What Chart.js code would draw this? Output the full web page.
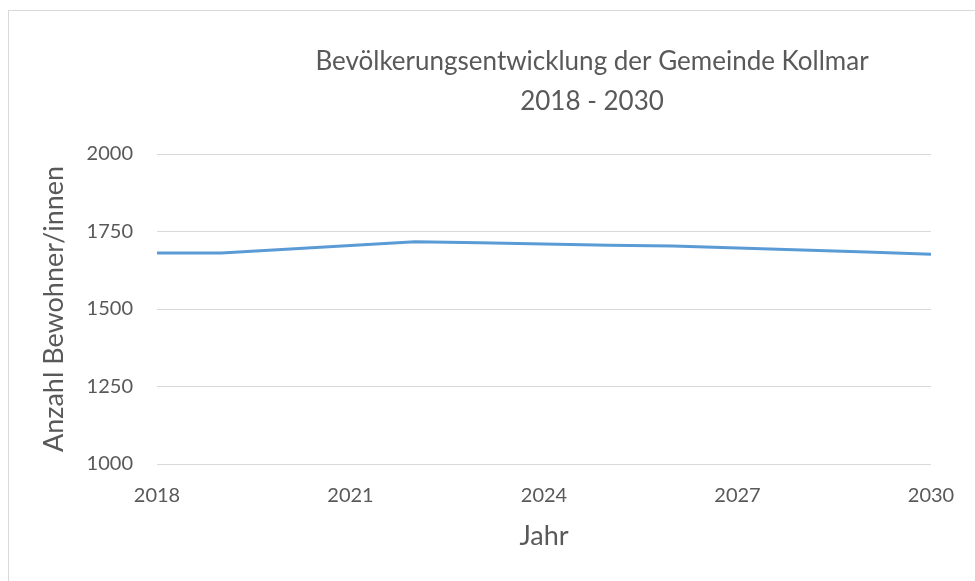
<!DOCTYPE html>
<html>
<head>
<meta charset="utf-8">
<script src="https://cdn.jsdelivr.net/npm/chart.js@4/dist/chart.umd.min.js"></script>
<style>
  html, body { margin: 0; padding: 0; background: #fff; overflow: hidden; }
  #wrap { position: relative; width: 975px; height: 581px; overflow: hidden; }
  #frame { position: absolute; left: 8px; top: 10px; width: 2000px; height: 2000px; border: 1px solid #d9d9d9; box-sizing: border-box; }
  canvas { position: absolute; left: 0; top: 0; }
</style>
</head>
<body>
<div id="wrap">
  <div id="frame"></div>
  <canvas id="c" width="975" height="581"></canvas>
</div>
<script>
const titleLines = ["Bevölkerungsentwicklung der Gemeinde Kollmar", "2018 - 2030"];
const years = ["2018","2019","2020","2021","2022","2023","2024","2025","2026","2027","2028","2029","2030"];
const residents = [1681, 1681, 1693, 1705, 1717, 1714, 1710, 1706, 1703, 1697, 1690, 1684, 1677];
const yTicks = [1000, 1250, 1500, 1750, 2000];
const xTitle = "Jahr";
const yTitle = "Anzahl Bewohner/innen";

const FONT = "Lato, 'Open Sans', sans-serif";
const TEXT = "#595959";

const titlePlugin = {
  id: 'twoLineTitle',
  afterDraw(chart) {
    const ctx = chart.ctx;
    ctx.save();
    ctx.fillStyle = TEXT;
    ctx.font = "26px " + FONT;
    ctx.textAlign = "center";
    ctx.textBaseline = "middle";
    ctx.fillText(titleLines[0], 592, 62);
    ctx.fillText(titleLines[1], 592, 102);
    ctx.restore();
  }
};

new Chart(document.getElementById('c'), {
  type: 'line',
  data: {
    labels: years,
    datasets: [{
      label: 'Einwohner',
      data: residents,
      borderColor: '#5b9bd5',
      backgroundColor: '#5b9bd5',
      borderWidth: 3,
      pointRadius: 0,
      tension: 0,
      fill: false
    }]
  },
  options: {
    responsive: false,
    animation: false,
    layout: { padding: { left: 0, top: 154, right: 44, bottom: 0 } },
    plugins: {
      legend: { display: false },
      title: { display: false },
      tooltip: { enabled: false }
    },
    scales: {
      x: {
        type: 'category',
        offset: false,
        grid: { display: false, drawTicks: false },
        border: { display: false },
        ticks: {
          autoSkip: false,
          maxRotation: 0,
          minRotation: 0,
          padding: 20,
          color: TEXT,
          font: { family: FONT, size: 20 },
          callback: function(v, i) { return i % 3 === 0 ? years[i] : ''; }
        },
        title: {
          display: true,
          text: xTitle,
          color: TEXT,
          font: { family: FONT, size: 27 },
          padding: { top: 0, bottom: 29 }
        },
        afterFit: function(axis) { axis.height = 117; }
      },
      y: {
        min: yTicks[0],
        max: yTicks[yTicks.length - 1],
        grid: { color: '#d9d9d9', lineWidth: 1, drawTicks: false },
        border: { display: false },
        afterBuildTicks: function(axis) { axis.ticks = yTicks.map(v => ({ value: v })); },
        ticks: {
          padding: 24,
          color: TEXT,
          font: { family: FONT, size: 20 },
          callback: function(v) { return String(v); }
        },
        title: {
          display: true,
          text: yTitle,
          color: TEXT,
          font: { family: FONT, size: 27 },
          padding: { top: 38, bottom: 0 }
        },
        afterFit: function(axis) { axis.width = 157; }
      }
    }
  },
  plugins: [titlePlugin]
});
</script>
</body>
</html>
